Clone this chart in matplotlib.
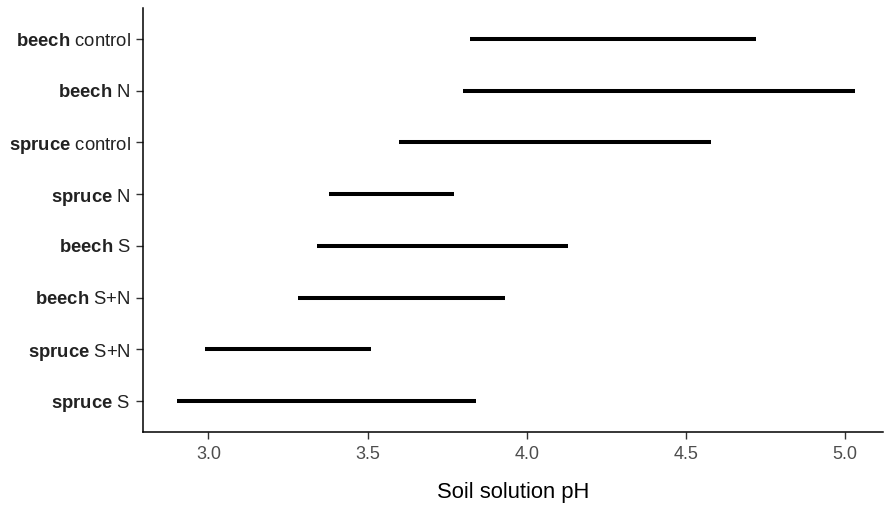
import matplotlib
matplotlib.use("Agg")
import matplotlib.pyplot as plt

plt.rcParams['font.family'] = ['Liberation Sans', 'DejaVu Sans']
plt.rcParams['mathtext.fontset'] = 'custom'
plt.rcParams['mathtext.rm'] = 'Liberation Sans'
plt.rcParams['mathtext.bf'] = 'Liberation Sans:bold'
plt.rcParams['mathtext.it'] = 'Liberation Sans:italic'

# bottom to top
species = ["spruce", "spruce", "beech", "beech", "spruce", "spruce", "beech", "beech"]
treatment = ["S", "S+N", "S+N", "S", "N", "control", "N", "control"]
ph_min = [2.90, 2.99, 3.28, 3.34, 3.38, 3.60, 3.80, 3.82]
ph_max = [3.84, 3.51, 3.93, 4.13, 3.77, 4.58, 5.03, 4.72]
x_ticks = [3.0, 3.5, 4.0, 4.5, 5.0]
x_label = "Soil solution pH"

fig = plt.figure(figsize=(8.84, 5.09), dpi=100)
ax = fig.add_axes([142.5/884, 1-432/509, 1-142.5/884-0.001, (432-8)/509])

ypos = list(range(1, len(species)+1))
ax.hlines(ypos, ph_min, ph_max, colors="black", linewidth=2.9, capstyle="butt")

ax.set_xlim(2.793, 5.119)
ax.set_ylim(0.4, 8.6)
ax.set_xticks(x_ticks)
ax.set_xticklabels([f"{t:.1f}" for t in x_ticks])
ax.set_yticks(ypos)
ax.set_yticklabels([r"$\mathbf{%s}$ %s" % (s, t) for s, t in zip(species, treatment)])

for side in ["top", "right"]:
    ax.spines[side].set_visible(False)
for side in ["left", "bottom"]:
    ax.spines[side].set_linewidth(1.1)
    ax.spines[side].set_color("black")

ax.tick_params(axis="both", length=5, width=1.0, color="#333333",
               labelcolor="#4D4D4D", labelsize=13)
ax.tick_params(axis="x", pad=5)
ax.tick_params(axis="y", labelcolor="#222222", labelsize=13.3, pad=3.5)
ax.set_xlabel(x_label, fontsize=15.8, color="black", labelpad=14)

fig.savefig("out.png", dpi=100)
